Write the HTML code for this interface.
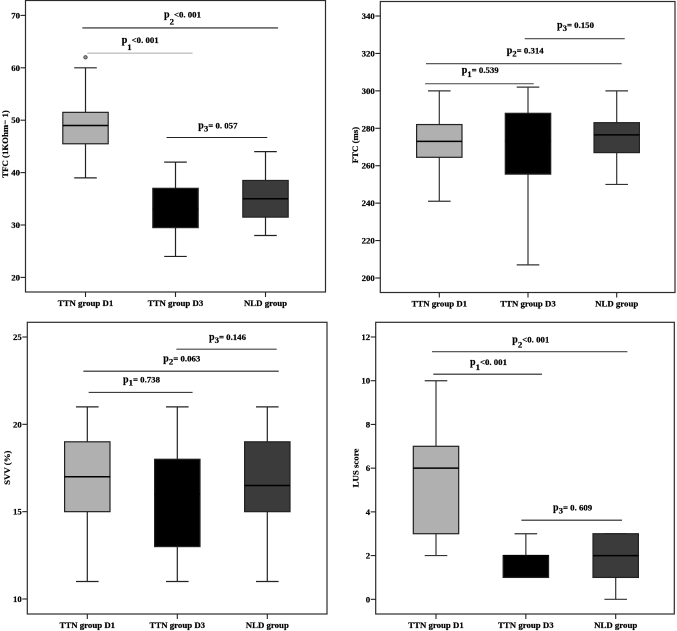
<!DOCTYPE html>
<html lang="en">
<head>
<meta charset="utf-8">
<title>Box plots of TFC, FTC, SVV and LUS score by group</title>
<style>
html,body{margin:0;padding:0;background:#fff;}
svg{display:block;filter:blur(0.3px);}
text{font-family:"Liberation Serif",serif;font-weight:700;fill:#000;stroke:#000;stroke-width:0.2px;font-size:8.8px;}
</style>
</head>
<body>
<svg id="chart" width="677" height="631" viewBox="0 0 677 631" xmlns="http://www.w3.org/2000/svg"></svg>
<script>
const categories = ['TTN group D1', 'TTN group D3', 'NLD group'];

// Panel A: TFC
const tfcTicks = [20, 30, 40, 50, 60, 70];
const tfcLow = [39, 24, 28];
const tfcQ1 = [45.5, 29.5, 31.5];
const tfcMedian = [49, 33, 35];
const tfcQ3 = [51.5, 37, 38.5];
const tfcHigh = [60, 42, 44];
const tfcOutliers = [[62], [], []];
const tfcLevels = [62.8, 67.6, 46.7];
const tfcFrom = [0.02, -0.035, 0.9];
const tfcTo = [1.19, 2.14, 2.02];
const tfcPText = ['<0. 001', '<0. 001', '= 0. 057'];

// Panel B: FTC
const ftcTicks = [200, 220, 240, 260, 280, 300, 320, 340];
const ftcLow = [241, 207, 250];
const ftcQ1 = [264.5, 255.5, 267];
const ftcMedian = [273, 273, 276.5];
const ftcQ3 = [282, 288, 283];
const ftcHigh = [300, 302, 300];
const ftcLevels = [303.8, 314.5, 327.9];
const ftcFrom = [-0.16, -0.15, 0.963];
const ftcTo = [1.064, 2.056, 2.09];
const ftcPText = ['= 0.539', '= 0.314', '= 0.150'];

// Panel C: SVV
const svvTicks = [10, 15, 20, 25];
const svvLow = [11, 11, 11];
const svvQ1 = [15, 13, 15];
const svvMedian = [17, 16, 16.5];
const svvQ3 = [19, 18, 19];
const svvHigh = [21, 21, 21];
const svvLevels = [21.83, 23.04, 24.3];
const svvFrom = [0.015, -0.044, 0.99];
const svvTo = [1.17, 2.127, 2.105];
const svvPText = ['= 0.738', '= 0.063', '= 0.146'];

// Panel D: LUS
const lusTicks = [0, 2, 4, 6, 8, 10, 12];
const lusLow = [2, 1, 0];
const lusQ1 = [3, 1, 1];
const lusMedian = [6, 2, 2];
const lusQ3 = [7, 2, 3];
const lusHigh = [10, 3, 3];
const lusLevels = [10.3, 11.33, 3.62];
const lusFrom = [-0.03, -0.045, 0.95];
const lusTo = [1.18, 2.13, 2.07];
const lusPText = ['<0. 001', '<0. 001', '= 0. 609'];

const fills = ['#b0b0b0', '#000000', '#3b3b3b'];
const NS = 'http://www.w3.org/2000/svg';
const root = document.getElementById('chart');

function make(parent, tag, attrs, text) {
  const node = document.createElementNS(NS, tag);
  for (const k in attrs) node.setAttribute(k, attrs[k]);
  if (text !== undefined) node.textContent = text;
  parent.appendChild(node);
  return node;
}

function drawPanel(p) {
  const g = make(root, 'g', {});
  
  

  const frame = make(g, 'rect', {x: p.left, y: p.top, width: p.right - p.left, height: p.bottom - p.top, fill: '#fff', stroke: '#2b2b2b', 'stroke-width': 1.2});
  
  

  const vMin = p.ticks[0];
  const vMax = p.ticks[p.ticks.length - 1];
  const yScale = v => p.yBottom + (v - vMin) * (p.yTop - p.yBottom) / (vMax - vMin);
  const xScale = c => p.x0 + c * p.step;
  const halfBox = 22.7;
  const halfCap = 11.3;

  p.ticks.forEach(t => {
    const y = yScale(t);
    const tick = make(g, 'line', {x1: p.left - 5, x2: p.left, y1: y, y2: y, stroke: '#222', 'stroke-width': 1.1});
    
    
    const label = make(g, 'text', {x: p.left - 5.5, y: y + 3, 'text-anchor': 'end'}, String(t));
    
    
  });

  const title = make(g, 'text', {x: 0, y: 0, 'text-anchor': 'middle', transform: 'translate(' + p.titleX + ' ' + p.titleY + ') rotate(-90)'}, p.title);
  
  

  categories.forEach((name, i) => {
    const cx = xScale(i);
    const tick = make(g, 'line', {x1: cx, x2: cx, y1: p.bottom, y2: p.bottom + 5, stroke: '#222', 'stroke-width': 1.1});
    
    
    const label = make(g, 'text', {x: cx, y: p.bottom + 14, 'text-anchor': 'middle'}, name);
    
    

    const whisker = make(g, 'line', {x1: cx, x2: cx, y1: yScale(p.low[i]), y2: yScale(p.high[i]), stroke: p.ink, 'stroke-width': 1.2});
    
    
    const capLow = make(g, 'line', {x1: cx - halfCap, x2: cx + halfCap, y1: yScale(p.low[i]), y2: yScale(p.low[i]), stroke: p.ink, 'stroke-width': 1.2});
    
    
    const capHigh = make(g, 'line', {x1: cx - halfCap, x2: cx + halfCap, y1: yScale(p.high[i]), y2: yScale(p.high[i]), stroke: p.ink, 'stroke-width': 1.2});
    
    

    const box = make(g, 'rect', {x: cx - halfBox, y: yScale(p.q3[i]), width: halfBox * 2, height: yScale(p.q1[i]) - yScale(p.q3[i]), fill: fills[i], stroke: '#222', 'stroke-width': 1.2});
    
    
    const median = make(g, 'line', {x1: cx - halfBox, x2: cx + halfBox, y1: yScale(p.median[i]), y2: yScale(p.median[i]), stroke: '#000', 'stroke-width': 1.5});
    
    

    (p.outliers ? p.outliers[i] : []).forEach(v => {
      const dot = make(g, 'circle', {cx: cx, cy: yScale(v), r: 1.7, fill: '#999', stroke: '#333', 'stroke-width': 0.8});
      
      
    });
  });

  p.levels.forEach((lvl, i) => {
    const y = yScale(lvl);
    const bracket = make(g, 'line', {x1: xScale(p.from[i]), x2: xScale(p.to[i]), y1: y, y2: y, stroke: p.bracketInk[i], 'stroke-width': 1.1});
    
    
    const label = make(g, 'text', {x: p.labelX[i], y: p.labelY[i]});
    
    
    make(label, 'tspan', {'font-size': '10px'}, 'p');
    make(label, 'tspan', {dy: p.subDrop[i]}, String(i + 1));
    make(label, 'tspan', {dy: -p.subDrop[i]}, p.pText[i]);
  });
}

drawPanel({key: 'tfc', title: 'TFC (1KOhm\u2212 1)', titleX: 8, titleY: 144,
  left: 25.5, right: 325.5, top: 0.5, bottom: 292, yTop: 15.4, yBottom: 277.4, x0: 85.5, step: 90,
  ticks: tfcTicks, low: tfcLow, q1: tfcQ1, median: tfcMedian, q3: tfcQ3, high: tfcHigh, outliers: tfcOutliers,
  levels: tfcLevels, from: tfcFrom, to: tfcTo, pText: tfcPText, ink: '#222',
  bracketInk: ['#aaa', '#222', '#222'], labelX: [121.7, 164, 198.3], labelY: [43, 17.5, 128.5], subDrop: [7, 7, 3]});

drawPanel({key: 'ftc', title: 'FTC (ms)', titleX: 358, titleY: 145,
  left: 380.3, right: 675, top: 1.5, bottom: 292.5, yTop: 16, yBottom: 278, x0: 439.3, step: 88.7,
  ticks: ftcTicks, low: ftcLow, q1: ftcQ1, median: ftcMedian, q3: ftcQ3, high: ftcHigh,
  levels: ftcLevels, from: ftcFrom, to: ftcTo, pText: ftcPText, ink: '#333',
  bracketInk: ['#444', '#444', '#444'], labelX: [461.7, 506.7, 557], labelY: [73, 53.5, 28], subDrop: [4, 3, 3]});

drawPanel({key: 'svv', title: 'SVV (%)', titleX: 10, titleY: 467.7,
  left: 27.3, right: 327, top: 322.3, bottom: 614, yTop: 337, yBottom: 599, x0: 87.3, step: 90,
  ticks: svvTicks, low: svvLow, q1: svvQ1, median: svvMedian, q3: svvQ3, high: svvHigh,
  levels: svvLevels, from: svvFrom, to: svvTo, pText: svvPText, ink: '#222',
  bracketInk: ['#222', '#222', '#444'], labelX: [123, 163.3, 209], labelY: [382.7, 361.7, 340], subDrop: [3, 3, 3]});

drawPanel({key: 'lus', title: 'LUS score', titleX: 358.5, titleY: 468,
  left: 375.7, right: 674.3, top: 322.3, bottom: 614, yTop: 337, yBottom: 599.3, x0: 436, step: 89.85,
  ticks: lusTicks, low: lusLow, q1: lusQ1, median: lusMedian, q3: lusQ3, high: lusHigh,
  levels: lusLevels, from: lusFrom, to: lusTo, pText: lusPText, ink: '#333',
  bracketInk: ['#222', '#444', '#222'], labelX: [470, 512.3, 553], labelY: [365, 342.7, 510.7], subDrop: [5, 5, 3]});
</script>
</body>
</html>
